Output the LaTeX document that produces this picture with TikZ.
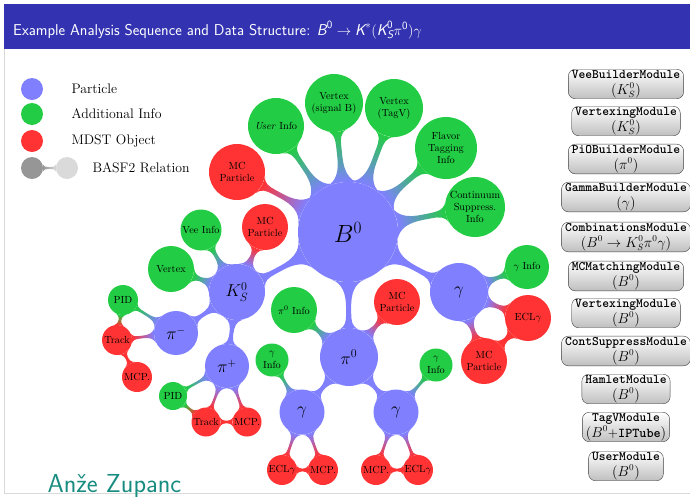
\documentclass[tikz,border=0pt]{standalone}
\usepackage{amsmath}
\usepackage{fontspec}
\usetikzlibrary{mindmap,positioning,backgrounds}
\definecolor{partblue}{RGB}{128,128,255}
\definecolor{infogreen}{RGB}{34,204,68}
\definecolor{mdstred}{RGB}{255,51,51}
\definecolor{reldark}{RGB}{150,150,150}
\definecolor{rellight}{RGB}{218,218,218}
\definecolor{titleblue}{RGB}{51,51,178}
\definecolor{authorteal}{RGB}{24,140,128}
\tikzset{
  part/.style={circle, fill=partblue, inner sep=0pt, align=center, minimum size=#1},
  info/.style={circle, fill=infogreen, inner sep=0pt, align=center, font=\fontsize{10.3}{12.3}\selectfont, minimum size=#1},
  mdst/.style={circle, fill=mdstred, inner sep=0pt, align=center, font=\fontsize{10.3}{12.3}\selectfont, minimum size=#1},
  modbox/.style={draw=black!75, rounded corners=7pt, top color=white, bottom color=black!25,
    inner xsep=3.5pt, inner ysep=1pt, align=center, font=\fontsize{12.9}{16}\selectfont},
  pp/.style={circle connection bar switch color=from (partblue) to (partblue)},
  pi/.style={circle connection bar switch color=from (partblue) to (infogreen)},
  pm/.style={circle connection bar switch color=from (partblue) to (mdstred)},
  im/.style={circle connection bar switch color=from (infogreen) to (mdstred)},
  mm/.style={circle connection bar switch color=from (mdstred) to (mdstred)},
}
\newcommand{\modname}[1]{\texttt{\bfseries #1}}
\begin{document}
\begin{tikzpicture}[x=1pt,y=-1pt]
\useasboundingbox (0,0) rectangle (690,496);
%%%%% frame
\fill[titleblue] (4,4) rectangle (690,49);
\node[anchor=base west, inner sep=0pt, text=white, font=\sffamily\fontsize{15.7}{18}\selectfont] (title) at (13,35)
  {Example Analysis Sequence and Data Structure: $\textit{B}^{\mathsf{0}}\rightarrow\textit{K}^*(\textit{K}^{\mathsf{0}}_{\textit{S}}\pi^{\mathsf{0}})\gamma$};
\draw[black!15] (4,49) -- (4,493) -- (690,493);
\node[anchor=base west, text=authorteal, font=\sffamily\fontsize{26}{30}\selectfont] (author) at (44,492) {An\v{z}e Zupanc};

%%%%% legend
\node[part=22pt] (legpart) at (32,89) {};
\node[info=22pt] (leginfo) at (32,114) {};
\node[mdst=22pt] (legmdst) at (32,141) {};
\node[circle, fill=reldark, minimum size=22pt] (legrela) at (32,168) {};
\node[circle, fill=rellight, minimum size=22pt] (legrelb) at (67,168) {};
\path[line width=3pt] (legrela) to[circle connection bar switch color=from (reldark) to (rellight)] (legrelb);
\begin{scope}[font=\fontsize{13.8}{16}\selectfont]
\node[anchor=west] at (68,89) {Particle};
\node[anchor=west] at (68,114) {Additional Info};
\node[anchor=west] at (68,141) {MDST Object};
\node[anchor=west] at (89,168) {BASF2 Relation};
\end{scope}

%%%%% particles
\node[part=100pt, font=\fontsize{25}{30}\selectfont] (b0) at (348,232) {$B^0$};
\node[part=56pt, font=\fontsize{18}{22}\selectfont] (ks) at (237,292) {$K^0_S$};
\node[part=44pt, font=\fontsize{16}{20}\selectfont] (pim) at (176,333) {$\pi^-$};
\node[part=44pt, font=\fontsize{16}{20}\selectfont] (pip) at (227,366) {$\pi^+$};
\node[part=58pt, font=\fontsize{18}{22}\selectfont] (pi0) at (349,357) {$\pi^0$};
\node[part=45pt, font=\fontsize{17}{20}\selectfont] (gaml) at (302,412) {$\gamma$};
\node[part=45pt, font=\fontsize{17}{20}\selectfont] (gamr) at (396,412) {$\gamma$};
\node[part=58pt, font=\fontsize{18}{22}\selectfont] (gam) at (459,292) {$\gamma$};

%%%%% B0 info
\node[mdst=56pt] (b0mc) at (237,172) {MC\\Particle};
\node[info=56pt] (b0user) at (276,126) {\emph{User} Info};
\node[info=58pt] (b0vtx) at (334,103) {Vertex\\(signal B)};
\node[info=58pt] (b0tagv) at (394,108) {Vertex\\(TagV)};
\node[info=62pt] (b0flav) at (446,148) {Flavor\\Tagging\\Info};
\node[info=60pt] (b0cont) at (475,207) {Continuum\\Suppress.\\Info};

%%%%% Ks info
\node[info=41pt] (ksvee) at (201,230) {Vee Info};
\node[mdst=46pt] (ksmc) at (265,227) {MC\\Particle};
\node[info=46pt] (ksvtx) at (171,269) {Vertex};

%%%%% pions
\node[info=30pt] (pimpid) at (123,300) {PID};
\node[mdst=30pt] (pimtrk) at (117,340) {Track};
\node[mdst=30pt] (pimmcp) at (137,377) {MCP.};
\node[info=28pt] (pippid) at (173,396) {PID};
\node[mdst=29pt] (piptrk) at (206,422) {Track};
\node[mdst=29pt] (pipmcp) at (247,422) {MCP.};

%%%%% pi0
\node[info=46pt] (pi0info) at (294,310) {$\pi^0$ Info};
\node[mdst=46pt] (pi0mc) at (397,302) {MC\\Particle};
\node[info=33pt] (gamlinfo) at (272,360) {$\gamma$\\Info};
\node[mdst=30pt] (gamlecl) at (282,470) {ECL$\gamma$};
\node[mdst=30pt] (gamlmcp) at (323,470) {MCP.};
\node[info=33pt] (gamrinfo) at (436,365) {$\gamma$\\Info};
\node[mdst=30pt] (gamrmcp) at (376,470) {MCP.};
\node[mdst=30pt] (gamrecl) at (418,470) {ECL$\gamma$};

%%%%% gamma
\node[info=44pt] (gaminfo) at (527,267) {$\gamma$ Info};
\node[mdst=46pt] (gamecl) at (528,318) {ECL$\gamma$};
\node[mdst=46pt] (gammc) at (484,361) {MC\\Particle};

%%%%% relations
\begin{scope}[on background layer]
\path[line width=6pt] (b0) to[pm] (b0mc);
\foreach \x in {b0user,b0vtx,b0tagv,b0flav,b0cont}
  \path[line width=6pt] (b0) to[pi] (\x);
\foreach \x in {ks,pi0,gam}
  \path[line width=16pt] (b0) to[pp] (\x);
\foreach \x in {pim,pip}
  \path[line width=9pt] (ks) to[pp] (\x);
\foreach \x in {ksvee,ksvtx}
  \path[line width=5pt] (ks) to[pi] (\x);
\path[line width=5pt] (ks) to[pm] (ksmc);
% pions
\path[line width=4pt] (pim) to[pi] (pimpid);
\path[line width=4pt] (pim) to[pm] (pimtrk);
\path[line width=3pt] (pimpid) to[im] (pimtrk);
\path[line width=3pt] (pimtrk) to[mm] (pimmcp);
\path[line width=4pt] (pip) to[pi] (pippid);
\path[line width=4pt] (pip) to[pm] (piptrk);
\path[line width=4pt] (pip) to[pm] (pipmcp);
\path[line width=3pt] (pippid) to[im] (piptrk);
\path[line width=3pt] (piptrk) to[mm] (pipmcp);
% pi0
\path[line width=5pt] (pi0) to[pi] (pi0info);
\path[line width=5pt] (pi0) to[pm] (pi0mc);
\foreach \x in {gaml,gamr}
  \path[line width=10pt] (pi0) to[pp] (\x);
\path[line width=4pt] (gaml) to[pi] (gamlinfo);
\path[line width=4pt] (gaml) to[pm] (gamlecl);
\path[line width=4pt] (gaml) to[pm] (gamlmcp);
\path[line width=3pt] (gamlecl) to[mm] (gamlmcp);
\path[line width=4pt] (gamr) to[pi] (gamrinfo);
\path[line width=4pt] (gamr) to[pm] (gamrmcp);
\path[line width=4pt] (gamr) to[pm] (gamrecl);
\path[line width=3pt] (gamrmcp) to[mm] (gamrecl);
% gamma
\path[line width=5pt] (gam) to[pi] (gaminfo);
\path[line width=5pt] (gam) to[pm] (gamecl);
\path[line width=5pt] (gam) to[pm] (gammc);
\path[line width=4pt] (gamecl) to[mm] (gammc);
\end{scope}

%%%%% modules
\foreach \y/\m/\p [count=\i] in {
    84/VeeBuilderModule/{$(K^0_S)$},
    121/VertexingModule/{$(K^0_S)$},
    159/PiOBuilderModule/{$(\pi^0)$},
    197/GammaBuilderModule/{$(\gamma)$},
    237/CombinationsModule/{$(B^0\rightarrow K^0_S\pi^0\gamma)$},
    276/MCMatchingModule/{$(B^0)$},
    313/VertexingModule/{$(B^0)$},
    351/ContSuppressModule/{$(B^0)$},
    389/HamletModule/{$(B^0)$},
    427/TagVModule/{$(B^0$+\modname{IPTube}$)$},
    466/UserModule/{$(B^0)$}}
  \node[modbox] (mod\i) at (626,\y) {\modname{\m}\\\fontsize{13.5}{17.5}\selectfont\p};
\end{tikzpicture}
\end{document}
